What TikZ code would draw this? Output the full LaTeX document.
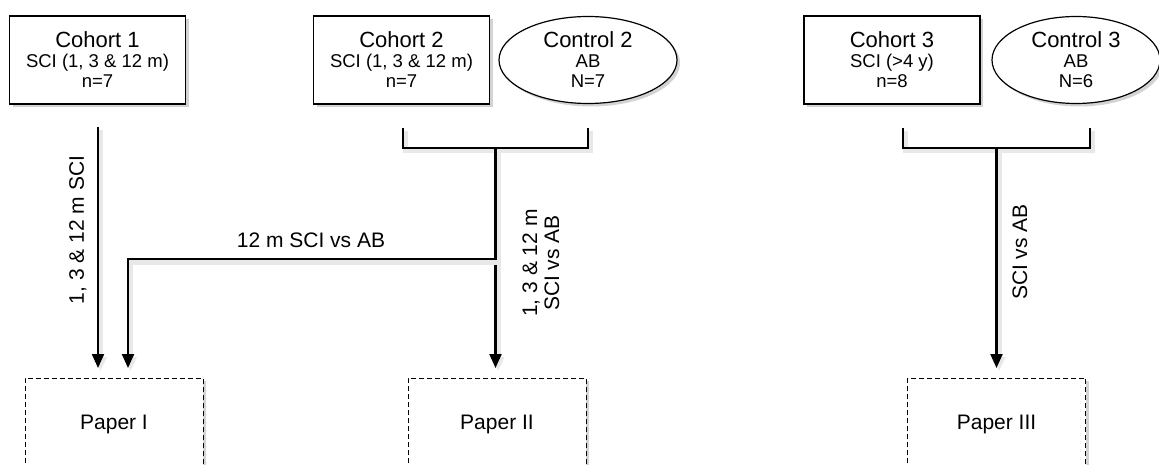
\documentclass[tikz,border=0pt]{standalone}
\usepackage{fontspec}
\setmainfont{Liberation Sans}
\usetikzlibrary{shapes.geometric,shadows,arrows.meta}
\newcommand{\grouptext}[3]{{\fontsize{22}{20}\selectfont #1}\\#2\\#3}
\tikzset{
  shade box/.style={drop shadow={shadow xshift=3pt, shadow yshift=-3pt, opacity=0.35}},
  cohort/.style={rectangle, draw, fill=white, line width=1.2pt, minimum width=176pt, minimum height=88pt, inner sep=0pt, align=center, font=\fontsize{18.5}{20}\selectfont, shade box},
  control/.style={ellipse, draw, fill=white, line width=1.2pt, minimum width=178pt, minimum height=87pt, inner sep=0pt, align=center, font=\fontsize{18.5}{20}\selectfont, shade box},
  paper/.style={rectangle, draw, dash pattern=on 5pt off 3pt, fill=white, line width=1pt, minimum width=178pt, minimum height=92pt, font=\fontsize{21}{24}\selectfont, shade box},
  flow/.style={line width=2.2pt, preaction={draw=black!9, line width=5pt, transform canvas={shift={(2.5pt,-3pt)}}}},
  arr/.style={flow, -{Triangle[width=12pt,length=14pt]}},
  lbl/.style={font=\fontsize{21}{22}\selectfont, align=center, inner sep=1pt}
}
\begin{document}
\begin{tikzpicture}[x=1pt, y=-1pt]
  \useasboundingbox (0,0) rectangle (1159,465);
  \clip (0,0) rectangle (1159,465);
  % groups
  \node[cohort] (coh1) at (97.5,60) {\grouptext{Cohort 1}{SCI (1, 3 \& 12 m)}{n=7}};
  \node[cohort] (coh2) at (401.5,60) {\grouptext{Cohort 2}{SCI (1, 3 \& 12 m)}{n=7}};
  \node[control] (ctl2) at (588,60) {\grouptext{Control 2}{AB}{N=7}};
  \node[cohort] (coh3) at (892,60) {\grouptext{Cohort 3}{SCI (>4 y)}{n=8}};
  \node[control, minimum width=168pt] (ctl3) at (1076,60) {\grouptext{Control 3}{AB}{N=6}};
  % papers
  \node[paper] (p1) at (114,424) {Paper I};
  \node[paper] (p2) at (497,424) {Paper II};
  \node[paper] (p3) at (996.5,424) {Paper III};
  % joints
  \coordinate (s1) at (98,127);
  \coordinate (t1) at (98,368);
  \coordinate (j2) at (495.5,148);
  \coordinate (k2) at (495.5,259);
  \coordinate (t2) at (495.5,368);
  \coordinate (u1) at (128,368);
  \coordinate (j3) at (996.5,148);
  \coordinate (t3) at (996.5,368);
  % connectors
  \draw[arr] (s1) -- (t1);
  \draw[flow] (403,128) |- (j2) -| (588,128);
  \draw[arr] (j2) -- (t2);
  \draw[arr] (k2) -| (u1);
  \draw[flow] (903,128) |- (j3) -| (1090,128);
  \draw[arr] (j3) -- (t3);
  % labels
  \node[lbl, rotate=90] (l1) at (78,230) {1, 3 \& 12 m SCI};
  \node[lbl] (l12) at (311,240) {12 m SCI vs AB};
  \node[lbl, rotate=90] (l2) at (541,263) {1, 3 \& 12 m\\SCI vs AB};
  \node[lbl, rotate=90] (l3) at (1020,252) {SCI vs AB};
\end{tikzpicture}
\end{document}
